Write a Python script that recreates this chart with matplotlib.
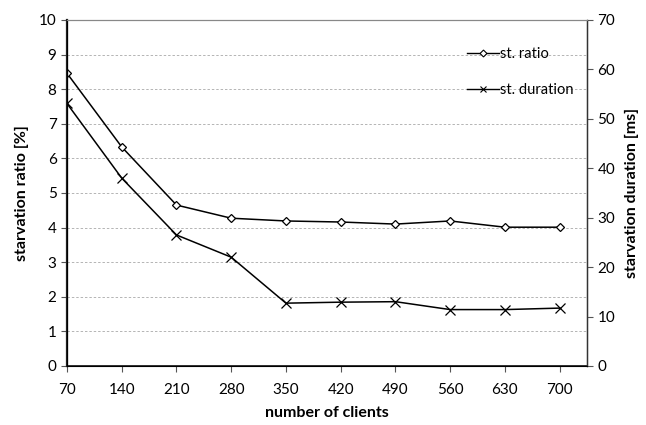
import matplotlib
matplotlib.use("Agg")
import matplotlib.pyplot as plt
from matplotlib.lines import Line2D

plt.rcParams['font.family'] = ['Lato', 'DejaVu Sans']

clients = [70, 140, 210, 280, 350, 420, 490, 560, 630, 700]
st_ratio = [8.46, 6.33, 4.65, 4.27, 4.19, 4.16, 4.10, 4.19, 4.01, 4.01]
st_duration = [53.1, 38.0, 26.5, 22.0, 12.7, 12.9, 13.0, 11.4, 11.4, 11.7]

fig = plt.figure(figsize=(6.46, 4.25), dpi=100)
ax = fig.add_axes([0.1037, 0.139, 0.805, 0.814])
ax2 = ax.twinx()

ax.plot(clients, st_ratio, color='black', lw=1.1, marker='D', ms=4.5,
        mfc='white', mec='black', mew=0.9)
ax2.plot(clients, st_duration, color='black', lw=1.1, marker='x', ms=6.5,
         mew=0.9)

ax.set_xlim(70, 735)
ax.set_ylim(0, 10)
ax2.set_ylim(0, 70)
ax.set_xticks(clients)
ax.set_yticks(range(0, 11))
ax2.set_yticks(range(0, 71, 10))

ax.yaxis.grid(True, color='#b4b4b4', ls=(0, (2.5, 2)), lw=0.7)
ax.set_axisbelow(True)

for a in (ax, ax2):
    a.tick_params(labelsize=11, length=4, width=0.8, color='#555555')
    a.spines['top'].set_color('#888888')
ax.spines['left'].set_linewidth(1.6)
ax.spines['left'].set_color('#222222')
ax.spines['bottom'].set_linewidth(1.3)
ax.spines['bottom'].set_color('#222222')
ax2.spines['right'].set_color('#333333')
ax2.spines['right'].set_linewidth(1.0)
ax.tick_params(axis='x', pad=8)

ax.set_xlabel('number of clients', fontsize=11.5, fontweight='bold', labelpad=7)
ax.set_ylabel('starvation ratio [%]', fontsize=11.5, fontweight='bold', labelpad=7)
ax2.set_ylabel('starvation duration [ms]', fontsize=11.5, fontweight='bold', labelpad=7)

# small legend handles, like the original
h1 = Line2D([], [], color='black', lw=1.0, marker='D', ms=3.5, mfc='white', mec='black', mew=0.8)
h2 = Line2D([], [], color='black', lw=1.0, marker='x', ms=4.5, mew=0.8)
ax2.legend([h1, h2], ['st. ratio', 'st. duration'], loc='upper right',
           bbox_to_anchor=(1.0, 0.96), frameon=False, fontsize=10.5,
           handlelength=2.2, handletextpad=0.1, labelspacing=1.5)

fig.savefig('out.png', dpi=100)
